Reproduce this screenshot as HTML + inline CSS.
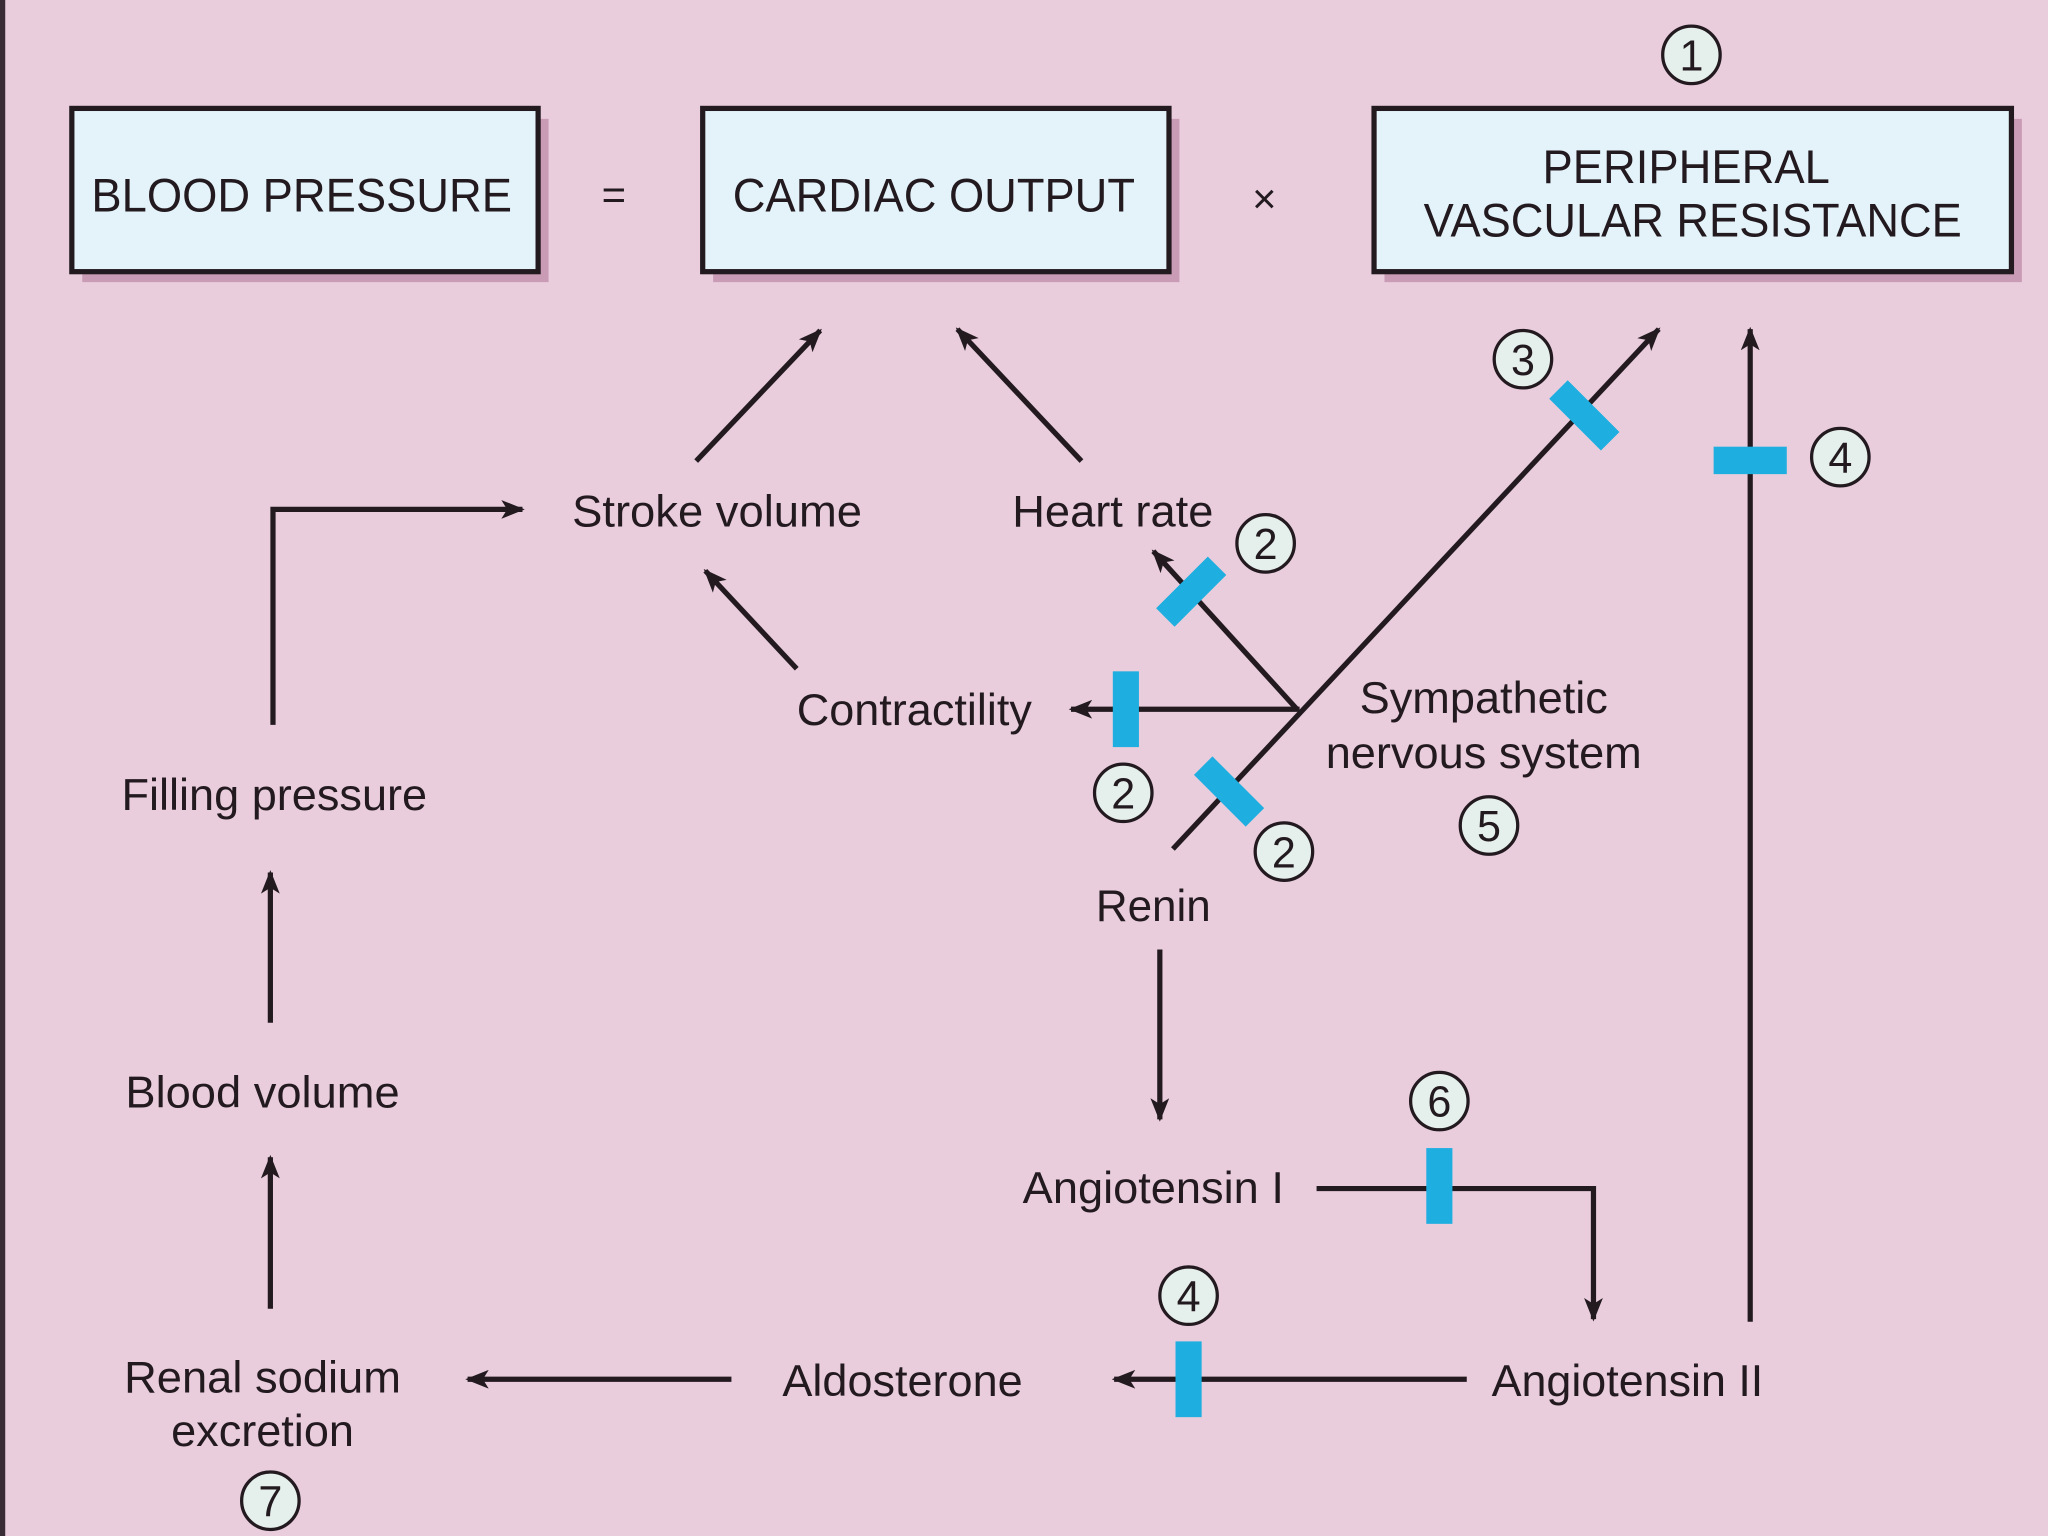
<!DOCTYPE html>
<html><head><meta charset="utf-8"><style>
html,body{margin:0;padding:0;background:#e9cddc;}
svg{display:block}
text{font-family:"Liberation Sans",Arial,sans-serif;fill:#231a20;}
</style></head><body>
<svg width="2048" height="1536" viewBox="0 0 1568 1176" xmlns="http://www.w3.org/2000/svg">
<defs>
<marker id="a" viewBox="0 0 10 8" refX="9" refY="4" markerWidth="4.5" markerHeight="3.6" orient="auto" markerUnits="strokeWidth">
<path d="M0,0 L10,4 L0,8 L2.5,4 Z" fill="#231a20"/>
</marker>
</defs>
<rect width="1568" height="1176" fill="#e9cddc"/>
<rect x="0" y="0" width="4" height="1176" fill="#3a2c34"/>
<g fill="#c99bb5">
<rect x="63" y="91" width="357" height="125"/>
<rect x="546" y="91" width="357" height="125"/>
<rect x="1060" y="91" width="488" height="125"/>
</g>
<g stroke="#231a20" stroke-width="4" fill="#e3f3f9">
<rect x="55" y="83" width="357" height="125"/>
<rect x="538" y="83" width="357" height="125"/>
<rect x="1052" y="83" width="488" height="125"/>
</g>
<g font-size="36" text-anchor="middle">
<text x="231" y="162" textLength="322" lengthAdjust="spacingAndGlyphs">BLOOD PRESSURE</text>
<text x="715" y="162" textLength="308" lengthAdjust="spacingAndGlyphs">CARDIAC OUTPUT</text>
<text x="1291" y="140" textLength="220" lengthAdjust="spacingAndGlyphs">PERIPHERAL</text>
<text x="1296" y="181" textLength="412" lengthAdjust="spacingAndGlyphs">VASCULAR RESISTANCE</text>
<text x="470" y="160" font-size="32">=</text>
<text x="968" y="163" font-size="32">×</text>
</g>
<g stroke="#231a20" stroke-width="4" fill="none" marker-end="url(#a)">
<line x1="533" y1="353" x2="628" y2="253"/>
<line x1="828" y1="353" x2="733" y2="252"/>
<line x1="610" y1="512" x2="540" y2="437"/>
<polyline points="209,555 209,390 400,390"/>
<line x1="207" y1="783" x2="207" y2="668"/>
<line x1="207" y1="1002" x2="207" y2="886"/>
<line x1="898" y1="650" x2="1270" y2="252"/>
<line x1="993" y1="543" x2="883" y2="422"/>
<line x1="995" y1="543" x2="820" y2="543"/>
<line x1="1340" y1="1012" x2="1340" y2="252"/>
<line x1="888" y1="727" x2="888" y2="857"/>
<polyline points="1008,910 1220,910 1220,1010"/>
<line x1="1123" y1="1056" x2="853" y2="1056"/>
<line x1="560" y1="1056" x2="358" y2="1056"/>
</g>
<g fill="#1eaee0">
<rect x="-28" y="-10" width="56" height="20" transform="translate(1213,318) rotate(45)"/>
<rect x="1312" y="342" width="56" height="21"/>
<rect x="-28" y="-10" width="56" height="20" transform="translate(912,453) rotate(-45)"/>
<rect x="852" y="514" width="20" height="58"/>
<rect x="-28" y="-10" width="56" height="20" transform="translate(941,606) rotate(45)"/>
<rect x="1092" y="879" width="20" height="58"/>
<rect x="900" y="1027" width="20" height="58"/>
</g>
<g font-size="34" text-anchor="middle">
<text x="549" y="403" textLength="222" lengthAdjust="spacingAndGlyphs">Stroke volume</text>
<text x="852" y="403" textLength="154" lengthAdjust="spacingAndGlyphs">Heart rate</text>
<text x="700" y="555" textLength="180" lengthAdjust="spacingAndGlyphs">Contractility</text>
<text x="1136" y="546" textLength="190" lengthAdjust="spacingAndGlyphs">Sympathetic</text>
<text x="1136" y="588" textLength="242" lengthAdjust="spacingAndGlyphs">nervous system</text>
<text x="210" y="620" textLength="234" lengthAdjust="spacingAndGlyphs">Filling pressure</text>
<text x="883" y="705" textLength="88" lengthAdjust="spacingAndGlyphs">Renin</text>
<text x="201" y="848" textLength="210" lengthAdjust="spacingAndGlyphs">Blood volume</text>
<text x="883" y="921" textLength="200" lengthAdjust="spacingAndGlyphs">Angiotensin I</text>
<text x="201" y="1066" textLength="212" lengthAdjust="spacingAndGlyphs">Renal sodium</text>
<text x="201" y="1107" textLength="140" lengthAdjust="spacingAndGlyphs">excretion</text>
<text x="691" y="1069" textLength="184" lengthAdjust="spacingAndGlyphs">Aldosterone</text>
<text x="1246" y="1069" textLength="208" lengthAdjust="spacingAndGlyphs">Angiotensin II</text>
</g>
<g font-size="33" text-anchor="middle">
<g transform="translate(1295,42)"><circle r="22" fill="#e5efeb" stroke="#231a20" stroke-width="2.5"/><text y="12">1</text></g>
<g transform="translate(1166,275)"><circle r="22" fill="#e5efeb" stroke="#231a20" stroke-width="2.5"/><text y="12">3</text></g>
<g transform="translate(1409,350)"><circle r="22" fill="#e5efeb" stroke="#231a20" stroke-width="2.5"/><text y="12">4</text></g>
<g transform="translate(969,416)"><circle r="22" fill="#e5efeb" stroke="#231a20" stroke-width="2.5"/><text y="12">2</text></g>
<g transform="translate(860,607)"><circle r="22" fill="#e5efeb" stroke="#231a20" stroke-width="2.5"/><text y="12">2</text></g>
<g transform="translate(983,652)"><circle r="22" fill="#e5efeb" stroke="#231a20" stroke-width="2.5"/><text y="12">2</text></g>
<g transform="translate(1140,632)"><circle r="22" fill="#e5efeb" stroke="#231a20" stroke-width="2.5"/><text y="12">5</text></g>
<g transform="translate(1102,843)"><circle r="22" fill="#e5efeb" stroke="#231a20" stroke-width="2.5"/><text y="12">6</text></g>
<g transform="translate(910,992)"><circle r="22" fill="#e5efeb" stroke="#231a20" stroke-width="2.5"/><text y="12">4</text></g>
<g transform="translate(207,1149)"><circle r="22" fill="#e5efeb" stroke="#231a20" stroke-width="2.5"/><text y="12">7</text></g>
</g>
</svg>
</body></html>
